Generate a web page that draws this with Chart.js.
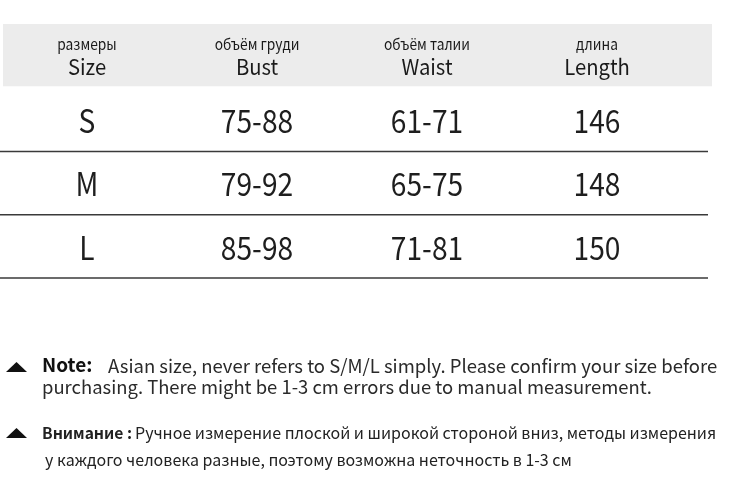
<!DOCTYPE html>
<html>
<head>
<meta charset="utf-8">
<script src="https://cdn.jsdelivr.net/npm/chart.js@4/dist/chart.umd.min.js"></script>
<style>
  html, body { margin: 0; padding: 0; background: #fff; }
  #wrap { width: 730px; height: 494px; position: relative; }
</style>
</head>
<body>
<div id="wrap"><canvas id="myChart"></canvas></div>
<script>
// table data
var columns = ['Size', 'Bust', 'Waist', 'Length'];
var columnsRu = ['размеры', 'объём груди', 'объём талии', 'длина'];
var rows = ['header', 'S', 'M', 'L'];
var sizes = ['S', 'M', 'L'];
var bust = ['75-88', '79-92', '85-98'];
var waist = ['61-71', '65-75', '71-81'];
var lengthCm = ['146', '148', '150'];

var noteEn = ['Asian size, never refers to S/M/L simply. Please confirm your size before',
              'purchasing. There might be 1-3 cm errors due to manual measurement.'];
var noteRu = ['Ручное измерение плоской и широкой стороной вниз, методы измерения',
              'у каждого человека разные, поэтому возможна неточность в 1-3 см'];

var FONT = '"Noto Sans CJK SC", "Noto Sans", sans-serif';

function cells(col, values) {
  var out = [{ x: col, y: 'header', head: col, sub: columnsRu[columns.indexOf(col)] }];
  for (var i = 0; i < values.length; i++) {
    out.push({ x: col, y: sizes[i], txt: values[i] });
  }
  return out;
}

// narrow text: draw with horizontal squeeze
function squeezed(ctx, txt, x, y, sx) {
  ctx.save();
  ctx.translate(x, y);
  ctx.scale(sx, 1);
  ctx.fillText(txt, 0, 0);
  ctx.restore();
}

var tablePlugin = {
  id: 'sizeTable',
  beforeDatasetsDraw: function (chart) {
    var ctx = chart.ctx;
    var y = chart.scales.y;
    var area = chart.chartArea;
    ctx.save();
    // header band
    var firstEdge = (y.getPixelForValue(0) + y.getPixelForValue(1)) / 2;
    ctx.fillStyle = '#ececec';
    ctx.fillRect(3, area.top + 1, 709, firstEdge - area.top - 1);
    // row separators
    ctx.strokeStyle = '#3a3a3a';
    ctx.lineWidth = 1.6;
    for (var i = 1; i < rows.length; i++) {
      var edge = i < rows.length - 1
        ? (y.getPixelForValue(i) + y.getPixelForValue(i + 1)) / 2
        : area.bottom;
      edge += 2;
      ctx.beginPath();
      ctx.moveTo(0, edge);
      ctx.lineTo(708, edge);
      ctx.stroke();
    }
    ctx.restore();
  },
  afterDatasetsDraw: function (chart) {
    var ctx = chart.ctx;
    ctx.save();
    ctx.textAlign = 'center';
    ctx.textBaseline = 'middle';
    chart.data.datasets.forEach(function (ds, di) {
      var meta = chart.getDatasetMeta(di);
      meta.data.forEach(function (pt, i) {
        var d = ds.data[i];
        if (d.head) {
          ctx.fillStyle = '#1a1a1a';
          ctx.font = '15px ' + FONT;
          squeezed(ctx, d.sub, pt.x, pt.y - 10, 0.92);
          ctx.font = '22px ' + FONT;
          squeezed(ctx, d.head, pt.x, pt.y + 12, 0.92);
        } else {
          ctx.fillStyle = '#1e1e1e';
          ctx.font = '32px ' + FONT;
          squeezed(ctx, d.txt, pt.x, pt.y + 3, 0.88);
        }
      });
    });
    ctx.restore();
  },
  afterDraw: function (chart) {
    var ctx = chart.ctx;
    ctx.save();
    ctx.fillStyle = '#111';
    // triangles
    [367, 433].forEach(function (ty) {
      ctx.beginPath();
      ctx.moveTo(6, ty + 5);
      ctx.lineTo(27, ty + 5);
      ctx.lineTo(16.5, ty - 5);
      ctx.closePath();
      ctx.fill();
    });
    ctx.textAlign = 'left';
    ctx.textBaseline = 'middle';
    ctx.fillStyle = '#111';
    ctx.font = 'bold 19px ' + FONT;
    ctx.fillText('Note:', 42, 365, 55);
    ctx.fillStyle = '#2a2a2a';
    ctx.font = '18.5px ' + FONT;
    ctx.fillText(noteEn[0], 108, 366, 611);
    ctx.fillText(noteEn[1], 42, 387, 610);
    ctx.fillStyle = '#222';
    ctx.font = 'bold 16px ' + FONT;
    ctx.fillText('Внимание :', 42, 433, 90);
    ctx.font = '16px ' + FONT;
    ctx.fillText(noteRu[0], 135, 433, 582);
    ctx.fillText(noteRu[1], 45, 460, 528);
    ctx.restore();
  }
};

var chart = new Chart(document.getElementById('myChart'), {
  type: 'scatter',
  data: {
    datasets: [
      { label: 'Size', data: cells('Size', sizes) },
      { label: 'Bust', data: cells('Bust', bust) },
      { label: 'Waist', data: cells('Waist', waist) },
      { label: 'Length', data: cells('Length', lengthCm) }
    ]
  },
  options: {
    responsive: true,
    maintainAspectRatio: false,
    animation: false,
    events: [],
    layout: { padding: { left: 2, right: 48, top: 23, bottom: 218 } },
    elements: { point: { radius: 0, hoverRadius: 0 } },
    scales: {
      x: { type: 'category', labels: columns, offset: true, display: false },
      y: { type: 'category', labels: rows, offset: true, display: false }
    },
    plugins: { legend: { display: false }, tooltip: { enabled: false } }
  },
  plugins: [tablePlugin]
});
</script>
</body>
</html>
